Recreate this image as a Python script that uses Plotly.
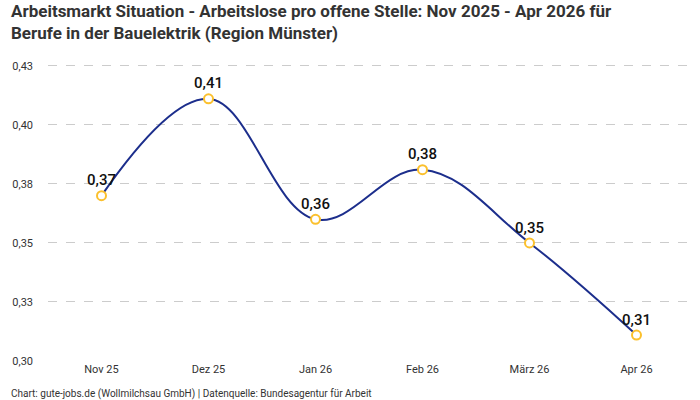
import plotly.graph_objects as go

months = ["Nov 25", "Dez 25", "Jan 26", "Feb 26", "März 26", "Apr 26"]
ratio = [0.370, 0.411, 0.360, 0.381, 0.350, 0.311]
labels = ["0,37", "0,41", "0,36", "0,38", "0,35", "0,31"]

y_ticks = [0.300, 0.325, 0.350, 0.375, 0.400, 0.425]
y_tick_text = ["0,30", "0,33", "0,35", "0,38", "0,40", "0,43"]

title_lines = [
    "Arbeitsmarkt Situation - Arbeitslose pro offene Stelle: Nov 2025 - Apr 2026 für",
    "Berufe in der Bauelektrik (Region Münster)",
]
source = "Chart: gute-jobs.de (Wollmilchsau GmbH) | Datenquelle: Bundesagentur für Arbeit"

font_family = "Roboto, sans-serif"

fig = go.Figure()
fig.add_trace(
    go.Scatter(
        x=months,
        y=ratio,
        mode="lines+markers+text",
        line={"color": "#1c2e8c", "width": 2, "shape": "spline", "smoothing": 1.1},
        marker={
            "size": 9,
            "color": "white",
            "line": {"color": "#fbc02d", "width": 2},
        },
        text=labels,
        textposition="top center",
        textfont={"size": 15, "color": "#111111", "family": font_family, "weight": 500},
        cliponaxis=False,
        hoverinfo="skip",
    )
)

# two title lines placed separately to get the tight line spacing
title_annotations = [
    {
        "text": f"<b>{line}</b>",
        "xref": "paper",
        "yref": "paper",
        "x": -0.06,
        "y": y,
        "xanchor": "left",
        "yanchor": "middle",
        "showarrow": False,
        "font": {"size": 17, "color": "#333333", "family": font_family},
    }
    for line, y in zip(title_lines, [1.14, 1.068])
]

fig.update_layout(
    width=700,
    height=400,
    margin={"l": 48, "r": 10, "t": 54, "b": 39},
    paper_bgcolor="white",
    plot_bgcolor="white",
    showlegend=False,
    font={"family": font_family, "color": "#333333", "size": 11},
    annotations=title_annotations
    + [
        {
            "text": source,
            "xref": "paper",
            "yref": "paper",
            "x": -0.06,
            "y": -0.083,
            "xanchor": "left",
            "yanchor": "top",
            "showarrow": False,
            "font": {"size": 10, "color": "#333333"},
        },
    ],
)

fig.update_xaxes(
    type="category",
    range=[-0.5, 5.5],
    showgrid=False,
    showline=False,
    zeroline=False,
    ticks="",
    tickfont={"size": 11, "color": "#333333"},
)
fig.update_yaxes(
    range=[0.3, 0.43],
    tickvals=y_ticks,
    ticktext=y_tick_text,
    showgrid=True,
    gridcolor="#cccccc",
    griddash="dash",
    gridwidth=1,
    zeroline=False,
    showline=False,
    ticks="",
    ticklabelstandoff=14,
    tickfont={"size": 11, "color": "#333333"},
)

# page body has a default 8px margin, drop it so the figure fills the window
fig.write_html(
    "out.html",
    config={"displayModeBar": False},
    post_script="document.body.style.margin = '0';",
)
